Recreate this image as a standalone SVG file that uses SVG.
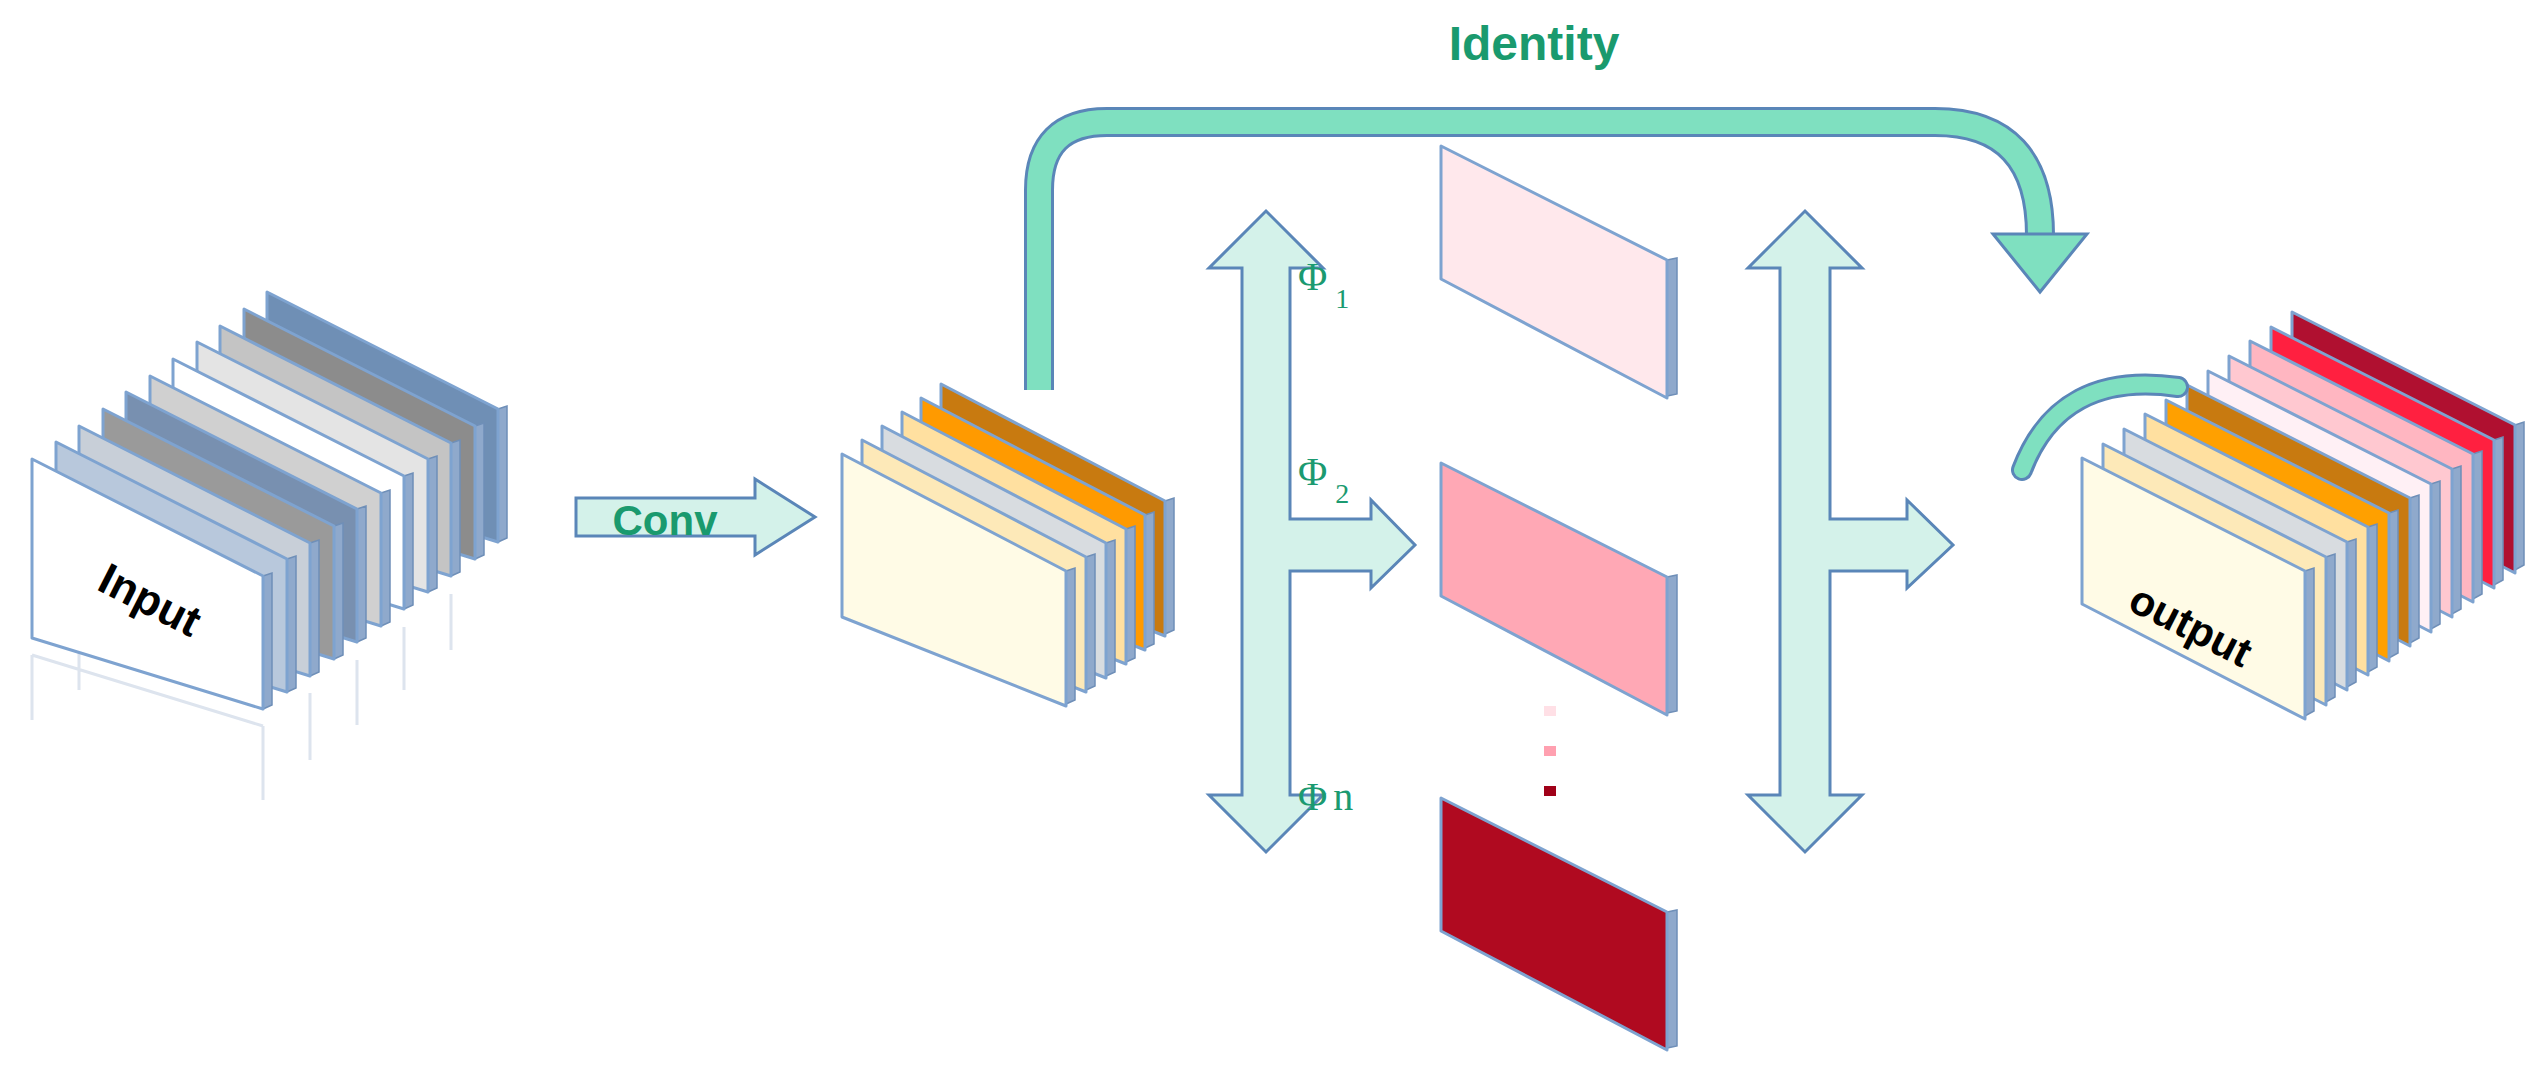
<svg xmlns="http://www.w3.org/2000/svg" xmlns:xlink="http://www.w3.org/1999/xlink" width="2545" height="1078" viewBox="0 0 2545 1078">
<style>
.pnl{stroke:#7ea3d0;stroke-width:3;stroke-linejoin:round}
.side{fill:#8fa9cc;stroke:#6f8fb8;stroke-width:1.5}
.arw{fill:#d4f2ea;stroke:#5a86b8;stroke-width:3;stroke-linejoin:miter}
.lbl{font-family:"Liberation Sans",Arial,sans-serif;font-weight:bold}
.phi{font-family:"Liberation Serif","Times New Roman",serif;fill:#1b9a70;font-size:40px}
.sub{font-size:28px}
.ghost{fill:none;stroke:#dde4ee;stroke-width:3}
</style>
<defs>
<g id="pin"><path class="side" d="M231,117 l9,-3 l0,132 l-9,4 Z"/><path class="pnl" d="M0,0 L231,117 L231,250 L0,179 Z"/></g>
<g id="pcv"><path class="side" d="M224,117 l9,-3 l0,132 l-9,4 Z"/><path class="pnl" d="M0,0 L224,117 L224,252 L0,163 Z"/></g>
<g id="pout"><path class="side" d="M223,113 l9,-3 l0,143 l-9,5 Z"/><path class="pnl" d="M0,0 L223,113 L223,261 L0,146 Z"/></g>
<g id="pmid"><path class="side" d="M226,114 l10,-2 l0,136 l-10,2 Z"/><path class="pnl" d="M0,0 L226,114 L226,252 L0,133 Z"/></g>
</defs>

<g id="input">
<path class="ghost" d="M32,655 L32,720 M263,726 L263,800 M32,655 L263,726 M79,622 L79,690 M126,590 L126,660 M173,557 L173,625 M310,693 L310,760 M357,660 L357,725 M404,627 L404,690 M451,594 L451,650"/>
<use href="#pin" x="267" y="292" fill="#6f8fb5"/>
<use href="#pin" x="244" y="309" fill="#8c8c8c"/>
<use href="#pin" x="220" y="326" fill="#c4c4c4"/>
<use href="#pin" x="197" y="342" fill="#e4e4e4"/>
<use href="#pin" x="173" y="359" fill="#ffffff"/>
<use href="#pin" x="150" y="376" fill="#d0d0d0"/>
<use href="#pin" x="126" y="392" fill="#7890b0"/>
<use href="#pin" x="103" y="409" fill="#9a9a9a"/>
<use href="#pin" x="79" y="426" fill="#c8cfd8"/>
<use href="#pin" x="56" y="442" fill="#b8c8dc"/>
<use href="#pin" x="32" y="459" fill="#ffffff"/>
<text class="lbl" x="150" y="615" font-size="44" text-anchor="middle" transform="rotate(27 150 600)">Input</text>
</g>

<g id="conv">
<use href="#pcv" x="941" y="384" fill="#c87a10"/>
<use href="#pcv" x="921" y="398" fill="#ff9a00"/>
<use href="#pcv" x="902" y="412" fill="#ffe0a0"/>
<use href="#pcv" x="882" y="426" fill="#d8dce0"/>
<use href="#pcv" x="862" y="440" fill="#fde9b8"/>
<use href="#pcv" x="842" y="454" fill="#fffbe6"/>
</g>

<g id="phi1-map"><use href="#pmid" x="1441" y="146" fill="#ffe8ec"/></g>
<g id="phi2-map"><use href="#pmid" x="1441" y="463" fill="#ffa8b5"/></g>
<g id="dots">
<rect x="1544" y="706" width="12" height="10" fill="#ffe0e6"/>
<rect x="1544" y="746" width="12" height="10" fill="#ffa0b0"/>
<rect x="1544" y="786" width="12" height="10" fill="#a00018"/>
</g>
<g id="phin-map"><use href="#pmid" x="1441" y="798" fill="#b00a20"/></g>

<g id="output">
<use href="#pout" x="2292" y="312" fill="#b01030"/>
<use href="#pout" x="2271" y="327" fill="#ff2040"/>
<use href="#pout" x="2250" y="341" fill="#ffb6c1"/>
<use href="#pout" x="2229" y="356" fill="#ffc8d0"/>
<use href="#pout" x="2208" y="371" fill="#fff0f5"/>
<use href="#pout" x="2187" y="385" fill="#c87a10"/>
<use href="#pout" x="2166" y="400" fill="#ffa000"/>
<use href="#pout" x="2145" y="414" fill="#ffe0a0"/>
<use href="#pout" x="2124" y="429" fill="#d8dce0"/>
<use href="#pout" x="2103" y="444" fill="#fde9b8"/>
<use href="#pout" x="2082" y="458" fill="#fffbe6"/>
<text class="lbl" x="2191" y="640" font-size="42" text-anchor="middle" transform="rotate(27 2191 625)">output</text>
</g>

<g id="connectors">
<path class="arw" d="M576,498 L755,498 L755,479 L815,517 L755,555 L755,536 L576,536 Z"/>
<text class="lbl" x="665" y="535" font-size="42" fill="#1a9a6e" text-anchor="middle">Conv</text>

<path d="M1039,390 L1039,190 Q1039,122 1107,122 L1935,122 Q2040,122 2040,235" fill="none" stroke="#5a86b8" stroke-width="30"/>
<path d="M1039,390 L1039,190 Q1039,122 1107,122 L1935,122 Q2040,122 2040,235" fill="none" stroke="#7fe0c0" stroke-width="24"/>
<path d="M1993,234 L2087,234 L2040,292 Z" fill="#7fe0c0" stroke="#5a86b8" stroke-width="3"/>
<text class="lbl" x="1534" y="60" font-size="48" fill="#1a9a6e" text-anchor="middle">Identity</text>

<path class="arw" d="M1266,211 L1323,268 L1290,268 L1290,519 L1371,519 L1371,500 L1415,545 L1371,588 L1371,571 L1290,571 L1290,795 L1323,795 L1266,852 L1209,795 L1242,795 L1242,268 L1209,268 Z"/>
<path class="arw" d="M1805,211 L1862,268 L1830,268 L1830,519 L1907,519 L1907,500 L1953,545 L1907,588 L1907,571 L1830,571 L1830,795 L1862,795 L1805,852 L1748,795 L1780,795 L1780,268 L1748,268 Z"/>

<path d="M2178,387 Q2060,370 2022,470" fill="none" stroke="#5a86b8" stroke-width="22" stroke-linecap="round"/>
<path d="M2178,387 Q2060,370 2022,470" fill="none" stroke="#7fe0c0" stroke-width="16" stroke-linecap="round"/>

<text class="phi" x="1298" y="290">Φ<tspan class="sub" dx="8" dy="18">1</tspan></text>
<text class="phi" x="1298" y="485">Φ<tspan class="sub" dx="8" dy="18">2</tspan></text>
<text class="phi" x="1298" y="810">Φ<tspan dx="6">n</tspan></text>
</g>
</svg>
